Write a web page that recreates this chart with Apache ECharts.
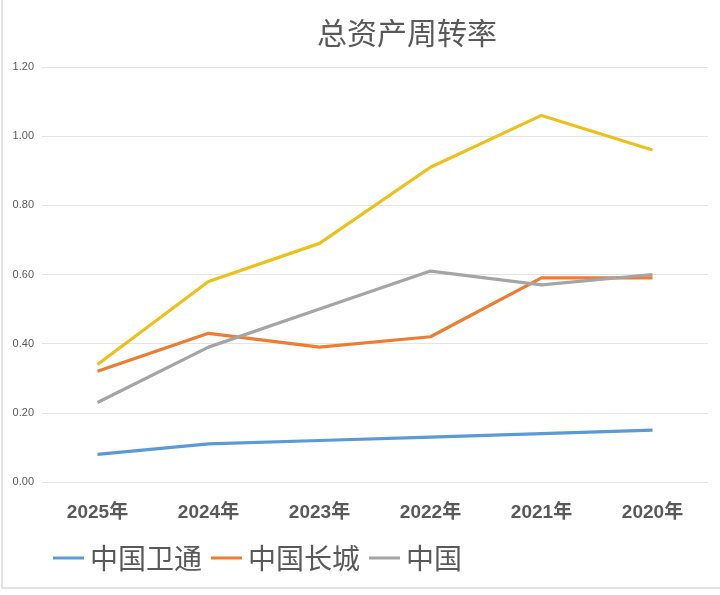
<!DOCTYPE html>
<html><head><meta charset="utf-8">
<script src="https://cdn.jsdelivr.net/npm/echarts@6/dist/echarts.min.js"></script>
<style>html,body{margin:0;padding:0;background:#fff}#c{width:720px;height:595px}</style>
</head><body><div id="c"></div>
<script>
const categories = ['2025年','2024年','2023年','2022年','2021年','2020年'];
const seriesNames = ['中国卫通','中国长城','中国','其他'];
const weitong = [0.08,0.11,0.12,0.13,0.14,0.15];
const changcheng = [0.32,0.43,0.39,0.42,0.59,0.59];
const third = [0.23,0.39,0.50,0.61,0.57,0.60];
const fourth = [0.34,0.58,0.69,0.91,1.06,0.96];
const yTicks = [0,0.2,0.4,0.6,0.8,1.0,1.2];
const colors = ['#5B9BD5','#ED7D31','#A5A5A5','#EBC21A'];
const values = [weitong, changcheng, third, fourth];

const chart = echarts.init(document.getElementById('c'));
chart.setOption({
  animation:false,
  color: colors,
  title:{text:'总资产周转率', left:402, top:13, textAlign:'center',
    textStyle:{fontFamily:'Noto Sans CJK SC', fontSize:30, fontWeight:'normal', color:'#595959'}},
  grid:{left:42, right:12, top:67, bottom:113},
  legend:{data:seriesNames.slice(0,3), left:48, top:539, itemWidth:31, itemHeight:3, itemGap:9,
    icon:'rect',
    textStyle:{fontFamily:'Noto Sans CJK SC', fontSize:28, color:'#595959', padding:[0,0,0,1]}},
  xAxis:{type:'category', data:categories, boundaryGap:true,
    axisLine:{show:false}, axisTick:{show:false},
    axisLabel:{fontFamily:'Liberation Sans, Noto Sans CJK SC', fontSize:19, fontWeight:'bold', color:'#595959', margin:21}},
  yAxis:{type:'value', min:yTicks[0], max:yTicks[yTicks.length-1], interval:0.2,
    axisLine:{show:false}, axisTick:{show:false},
    splitLine:{lineStyle:{color:'#E4E4E4', width:1}},
    axisLabel:{fontFamily:'Liberation Sans', fontSize:11, color:'#595959', margin:8,
      formatter:v=>v.toFixed(2)}},
  series: values.map((d,i)=>({name:seriesNames[i], type:'line', data:d, symbol:'none',
    lineStyle:{width:3.2, color:colors[i]}, z: i===3?3:2})),
  graphic:[{type:'rect', shape:{x:2, y:-5, width:730, height:593},
    style:{fill:'none', stroke:'#D9D9D9', lineWidth:1.5}, silent:true}]
});
</script></body></html>
